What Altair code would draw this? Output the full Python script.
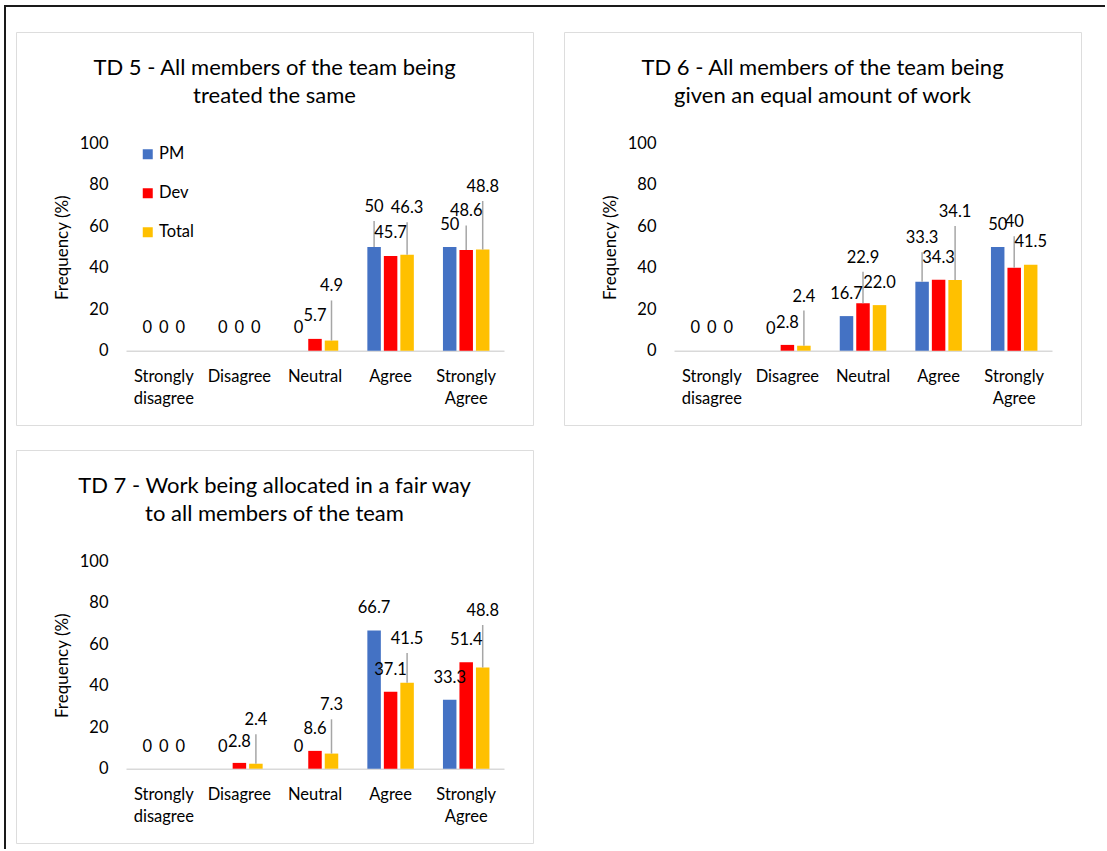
import altair as alt
import pandas as pd

# Response scale and respondent groups
categories = ["Strongly disagree", "Disagree", "Neutral", "Agree", "Strongly Agree"]
series = ["PM", "Dev", "Total"]
colors = ["#4472C4", "#FF0000", "#FFC000"]
y_ticks = [0, 20, 40, 60, 80, 100]

# TD 5
td5_title = ["TD 5 - All members of the team being", "treated the same"]
td5_pm = ["0", "0", "0", "50", "50"]
td5_dev = ["0", "0", "5.7", "45.7", "48.6"]
td5_total = ["0", "0", "4.9", "46.3", "48.8"]

# TD 6
td6_title = ["TD 6 - All members of the team being", "given an equal amount of work"]
td6_pm = ["0", "0", "16.7", "33.3", "50"]
td6_dev = ["0", "2.8", "22.9", "34.3", "40"]
td6_total = ["0", "2.4", "22.0", "34.1", "41.5"]

# TD 7
td7_title = ["TD 7 - Work being allocated in a fair way", "to all members of the team"]
td7_pm = ["0", "0", "0", "66.7", "33.3"]
td7_dev = ["0", "2.8", "8.6", "37.1", "51.4"]
td7_total = ["0", "2.4", "7.3", "41.5", "48.8"]

# Height (in % units) at which each data label sits
td5_label_pm = [10.8, 10.8, 10.8, 69.3, 60.7]
td5_label_dev = [10.8, 10.8, 16.6, 56.9, 67.2]
td5_label_total = [10.8, 10.8, 31.0, 68.8, 79.0]
td6_label_pm = [10.8, 10.5, 27.4, 54.3, 60.7]
td6_label_dev = [10.8, 13.4, 44.9, 44.9, 62.0]
td6_label_total = [10.8, 26.1, 32.7, 66.9, 52.4]
td7_label_pm = [10.5, 10.5, 10.5, 77.7, 43.9]
td7_label_dev = [10.5, 12.9, 19.0, 47.6, 62.1]
td7_label_total = [10.5, 23.4, 30.6, 62.6, 76.1]

FONT = "Lato"
TXT = "#000000"
W, H = 517, 393


def panel(title_lines, values, label_at, show_legend):
    rows = []
    for s, vals, labs in zip(series, values, label_at):
        for c, v, ly in zip(categories, vals, labs):
            rows.append({"cat": c, "series": s, "text": v, "value": float(v),
                         "label_y": ly, "leader": (ly - float(v)) > 14})
    df = pd.DataFrame(rows)

    x_axis = alt.Axis(title=None, orient="bottom", offset=-(H - 318.7),
                      domainColor="#d9d9d9", domainWidth=1.5, ticks=False,
                      labelAngle=0, labelFont=FONT, labelFontSize=16.5,
                      labelColor=TXT, labelBaseline="alphabetic",
                      labelPadding=31, labelLineHeight=22.3,
                      labelExpr="split(datum.label, ' ')",
                      labelOverlap=False, labelLimit=200, grid=False)
    x_scale = alt.Scale(range=[110, 488], paddingInner=0, paddingOuter=0)
    y_axis = alt.Axis(title=None, orient="left", offset=-92, values=y_ticks,
                      domain=False, ticks=False, grid=False, labelPadding=0,
                      labelFont=FONT, labelFontSize=16.5, labelColor=TXT)
    y_scale = alt.Scale(domain=[0, 100], range=[318.7, 111.5], nice=False, zero=True)

    x = alt.X("cat:N", sort=categories, scale=x_scale, axis=x_axis)
    xo = alt.XOffset("series:N", sort=series,
                     scale=alt.Scale(paddingInner=0.182, paddingOuter=0.882))

    color = alt.Color(
        "series:N", sort=series,
        scale=alt.Scale(domain=series, range=colors),
        legend=alt.Legend(title=None, orient="none", legendX=123.5, legendY=114,
                          symbolType="square", symbolSize=100, symbolStrokeWidth=0,
                          symbolOpacity=1, labelFont=FONT, labelFontSize=16.5,
                          labelColor=TXT, rowPadding=22, labelOffset=3, padding=0)
        if show_legend else None)

    bars = alt.Chart(df).mark_bar().encode(
        x=x, xOffset=xo,
        y=alt.Y("value:Q", scale=y_scale, axis=y_axis),
        color=color,
    )
    leaders = alt.Chart(df).transform_filter("datum.leader").mark_rule(
        yOffset=14, color="#a6a6a6", strokeWidth=1.5
    ).encode(x=x, xOffset=xo, y=alt.Y("label_y:Q", scale=y_scale, axis=y_axis),
             y2="value:Q")
    labels = alt.Chart(df).mark_text(
        font=FONT, fontSize=16.5, color=TXT, baseline="middle", align="center"
    ).encode(x=x, xOffset=xo, y=alt.Y("label_y:Q", scale=y_scale, axis=y_axis),
             text="text:N")

    one = pd.DataFrame({"k": [0]})
    title = alt.Chart(one).mark_text(
        text=title_lines, font=FONT, fontSize=22, color=TXT, align="center",
        baseline="alphabetic", lineHeight=28.3
    ).encode(x=alt.value(W / 2), y=alt.value(42.7))
    ytitle = alt.Chart(one).mark_text(
        text="Frequency (%)", font=FONT, fontSize=17, color=TXT, align="center",
        baseline="middle", angle=270
    ).encode(x=alt.value(46.5), y=alt.value(215.7))

    layers = [bars, leaders, labels, title, ytitle]
    return alt.layer(*layers).properties(width=W, height=H)


p1 = panel(td5_title, [td5_pm, td5_dev, td5_total],
           [td5_label_pm, td5_label_dev, td5_label_total], True)
p2 = panel(td6_title, [td6_pm, td6_dev, td6_total],
           [td6_label_pm, td6_label_dev, td6_label_total], False)
p3 = panel(td7_title, [td7_pm, td7_dev, td7_total],
           [td7_label_pm, td7_label_dev, td7_label_total], False)

# Outer page frame (top and left edges), drawn relative to the first panel
one = pd.DataFrame({"k": [0]})
frame_top = alt.Chart(one).mark_rule(color="#1a1a1a", strokeWidth=2).encode(
    x=alt.value(-12), x2=alt.value(1089), y=alt.value(-26))
frame_left = alt.Chart(one).mark_rule(color="#1a1a1a", strokeWidth=2).encode(
    x=alt.value(-11), y=alt.value(-27), y2=alt.value(817))
p1 = alt.layer(p1, frame_top, frame_left).properties(width=W, height=H)

chart = alt.concat(p1, p2, p3, columns=2, spacing={"row": 25, "column": 31},
                   bounds="flush").resolve_scale(
    color="independent", x="independent", y="independent", xOffset="independent"
).properties(
    padding={"left": 2, "top": 3, "right": 0, "bottom": 0},
    background="white",
).configure_view(stroke="#d9d9d9", strokeWidth=2).configure(font=FONT)

chart.save("out.html", embed_options={"renderer": "svg", "actions": False})
